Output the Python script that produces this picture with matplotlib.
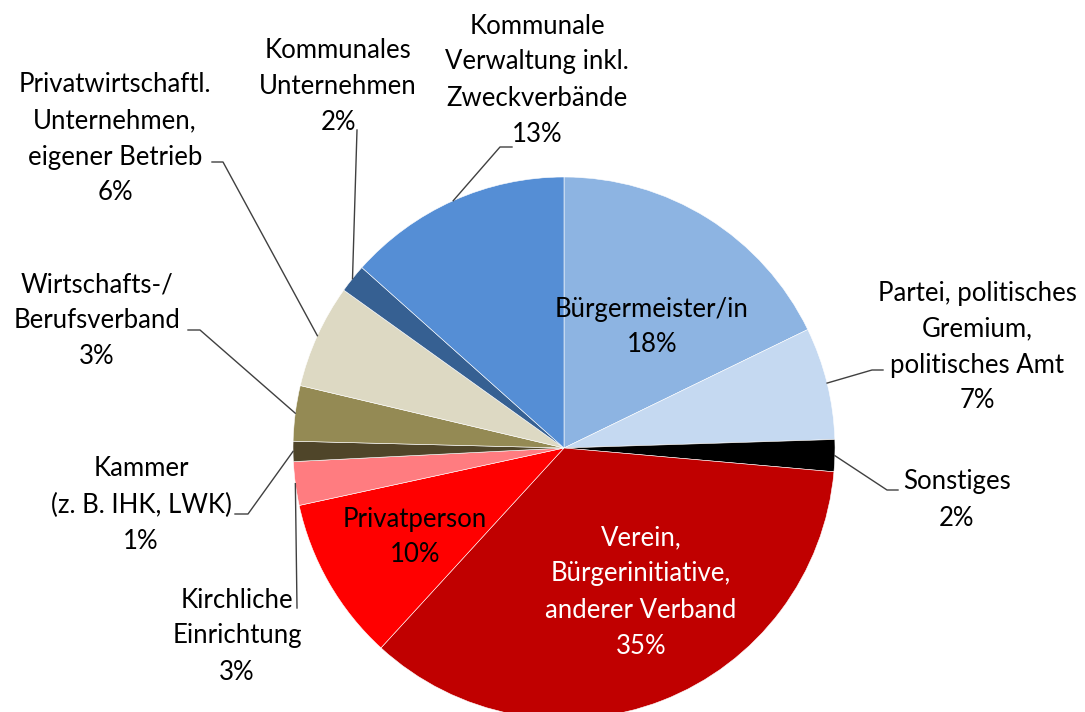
import numpy as np
import matplotlib.pyplot as plt

W, H = 1085, 712

labels = ["Bürgermeister/in", "Partei, politisches\nGremium,\npolitisches Amt", "Sonstiges",
          "Verein,\nBürgerinitiative,\nanderer Verband", "Privatperson", "Kirchliche\nEinrichtung",
          "Kammer\n(z. B. IHK, LWK)", "Wirtschafts-/\nBerufsverband",
          "Privatwirtschaftl.\nUnternehmen,\neigener Betrieb", "Kommunales\nUnternehmen",
          "Kommunale\nVerwaltung inkl.\nZweckverbände"]
shares = [17.8, 6.7, 1.9, 35.4, 9.8, 2.6, 1.2, 3.3, 6.2, 1.7, 13.4]
colors = ["#8DB4E2", "#C5D9F1", "#000000", "#C00000", "#FF0000", "#FF7C80",
          "#4F4529", "#948A54", "#DDD9C3", "#366092", "#558ED5"]

# layout in pixel coords (top origin): text centre, elbow of leader line, end of leader line
text_pos = [(652, 327), (977, 347), (957, 500), (641, 592), (415, 537), (237, 636),
            (141, 505), (97, 321), (115, 139), (338, 86), (537, 80)]
elbows = [None, (872, 370), (887, 490), None, None, (297, 608),
          (248, 514), (200, 330), (223, 162), (357, 130), (500, 147)]
ends = [None, (883, 370), (898, 490), None, None, (297, 608),
        (235, 514), (188, 330), (212, 162), (357, 130), (512, 147)]
inside = [True, False, False, True, True, False, False, False, False, False, False]
txt_color = ["black", "black", "black", "white", "black", "black",
             "black", "black", "black", "black", "black"]

cx, cy, R = 564, 448, 271

plt.rcParams['font.family'] = ['Lato', 'DejaVu Sans']
fig = plt.figure(figsize=(W / 100, H / 100), dpi=100)
ax = fig.add_axes([0, 0, 1, 1])
wedges, _ = ax.pie(shares, colors=colors, startangle=90, counterclock=False,
                   center=(cx, H - cy), radius=R,
                   wedgeprops=dict(edgecolor="white", linewidth=0.4))
ax.set_xlim(0, W)
ax.set_ylim(0, H)
ax.set_aspect("equal")
ax.axis("off")

for i, w in enumerate(wedges):
    pct = "{}%".format(int(round(shares[i])))
    tx, ty = text_pos[i]
    ax.text(tx, H - ty, labels[i] + "\n" + pct, ha="center", va="center",
            fontsize=18.5, color=txt_color[i], linespacing=1.55)
    if inside[i]:
        continue
    mid = np.deg2rad((w.theta1 + w.theta2) / 2)
    px, py = cx + R * np.cos(mid), (H - cy) + R * np.sin(mid)
    ex, ey = elbows[i]
    nx, ny = ends[i]
    ax.plot([px, ex, nx], [py, H - ey, H - ny], color="#404040", lw=1.0)

fig.savefig("out.png", dpi=100)
